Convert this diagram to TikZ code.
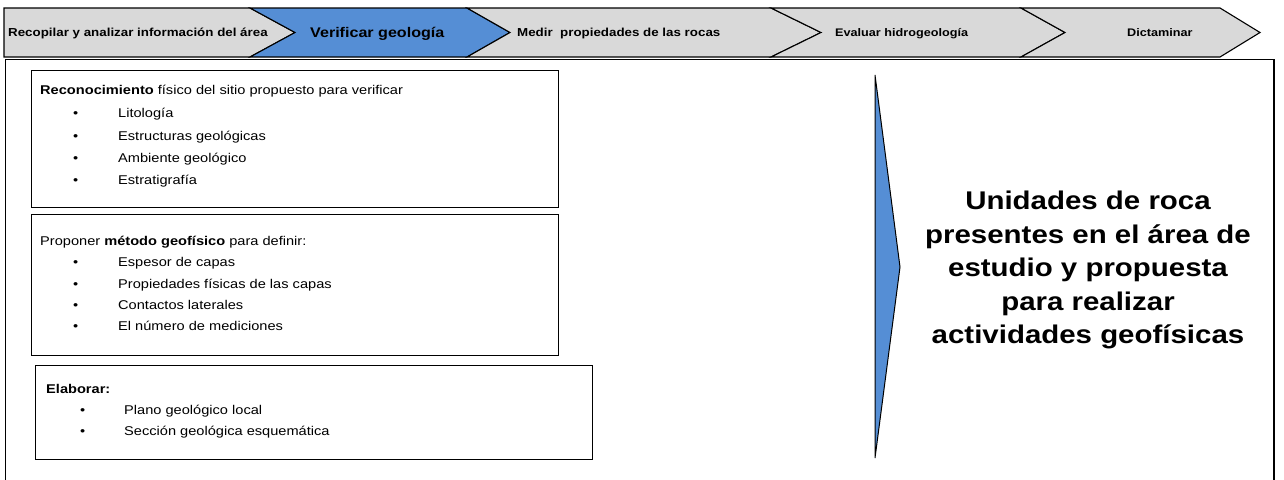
\documentclass[tikz,border=0pt]{standalone}
\usepackage{fontspec}
\setmainfont{Liberation Sans}[FakeStretch=1.15]
\usetikzlibrary{positioning}

\definecolor{stepgray}{RGB}{217,217,217}
\definecolor{stepblue}{RGB}{85,142,213}

\tikzset{
	chevron/.style={draw=black, line width=1.1pt, fill=stepgray, line join=miter},
	current/.style={chevron, fill=stepblue},
	steplabel/.style={anchor=base west, inner sep=0pt, font=\fontsize{11.6}{14}\selectfont\bfseries},
	smallstep/.style={steplabel, font=\fontsize{11}{13}\selectfont\bfseries},
	panel/.style={draw=black, line width=1.3pt, anchor=north west, inner sep=0pt},
	paneltitle/.style={anchor=base west, inner sep=0pt, font=\fontsize{12.7}{15}\selectfont},
	bul/.style={paneltitle},
	entry/.style={paneltitle},
}

\begin{document}
\begin{tikzpicture}[x=1pt, y=-1pt]
	\useasboundingbox (0,0) rectangle (1284,479);

	% steps on top
	\draw[chevron] (4,8) -- (250,8) -- (295,32.5) -- (250,57) -- (4,57) -- cycle;
	\draw[current] (250,8) -- (467,8) -- (510,32.5) -- (467,57) -- (250,57) -- (295,32.5) -- cycle;
	\draw[chevron] (467,8) -- (771,8) -- (821,32.5) -- (771,57) -- (467,57) -- (510,32.5) -- cycle;
	\draw[chevron] (771,8) -- (1021,8) -- (1065,32.5) -- (1021,57) -- (771,57) -- (821,32.5) -- cycle;
	\draw[chevron] (1021,8) -- (1220,8) -- (1260,32.5) -- (1220,57) -- (1021,57) -- (1065,32.5) -- cycle;

	\node[steplabel] (recopilar) at (8,36.7) {Recopilar y analizar información del área};
	\node[steplabel, font=\fontsize{14}{16}\selectfont\bfseries] (verificar) at (310,37.5) {Verificar geología};
	\node[steplabel] (medir) at (517,36.7) {Medir\ \ propiedades de las rocas};
	\node[smallstep] (evaluar) at (835,36.5) {Evaluar hidrogeología};
	\node[smallstep] (dictaminar) at (1127,36.5) {Dictaminar};

	% frame
	\draw[line width=1.5pt] (5.5,485) |- (1274,59.5) -- (1274,485);

	% panels
	\node[panel, minimum width=527pt, minimum height=137pt] (recon) at (31,70) {};
	\node[panel, minimum width=527pt, minimum height=141pt] (metodo) at (31,214) {};
	\node[panel, minimum width=557pt, minimum height=94pt] (elaborar) at (35,365) {};

	\node[paneltitle] (recontitle) at (40,94.5) {\textbf{Reconocimiento} físico del sitio propuesto para verificar};
	\node[bul] (reconb1) at (73,117.5) {•};
	\node[bul] (reconb2) at (73,140) {•};
	\node[bul] (reconb3) at (73,162) {•};
	\node[bul] (reconb4) at (73,184) {•};
	\node[entry] (recon1) at (118,117.5) {Litología};
	\node[entry] (recon2) at (118,140) {Estructuras geológicas};
	\node[entry] (recon3) at (118,162) {Ambiente geológico};
	\node[entry] (recon4) at (118,184) {Estratigrafía};

	\node[paneltitle] (metodotitle) at (40,245.5) {Proponer \textbf{método geofísico} para definir:};
	\node[bul] (metodob1) at (73,266.5) {•};
	\node[bul] (metodob2) at (73,288) {•};
	\node[bul] (metodob3) at (73,309) {•};
	\node[bul] (metodob4) at (73,330) {•};
	\node[entry] (metodo1) at (118,266.5) {Espesor de capas};
	\node[entry] (metodo2) at (118,288) {Propiedades físicas de las capas};
	\node[entry] (metodo3) at (118,309) {Contactos laterales};
	\node[entry] (metodo4) at (118,330) {El número de mediciones};

	\node[paneltitle] (elaborartitle) at (46,393.5) {\textbf{Elaborar:}};
	\node[bul] (elaborarb1) at (80,414) {•};
	\node[bul] (elaborarb2) at (80,435) {•};
	\node[entry] (elaborar1) at (124,414) {Plano geológico local};
	\node[entry] (elaborar2) at (124,435) {Sección geológica esquemática};

	% result
	\draw[current, line width=1pt] (875,75) -- (900,267) -- (875,458) -- cycle;
	\node[align=center, font=\fontsize{25.6}{33.5}\selectfont\bfseries] (resultado) at (1088,270)
		{Unidades de roca\\presentes en el área de\\estudio y propuesta\\para realizar\\actividades geofísicas};

\end{tikzpicture}
\end{document}
